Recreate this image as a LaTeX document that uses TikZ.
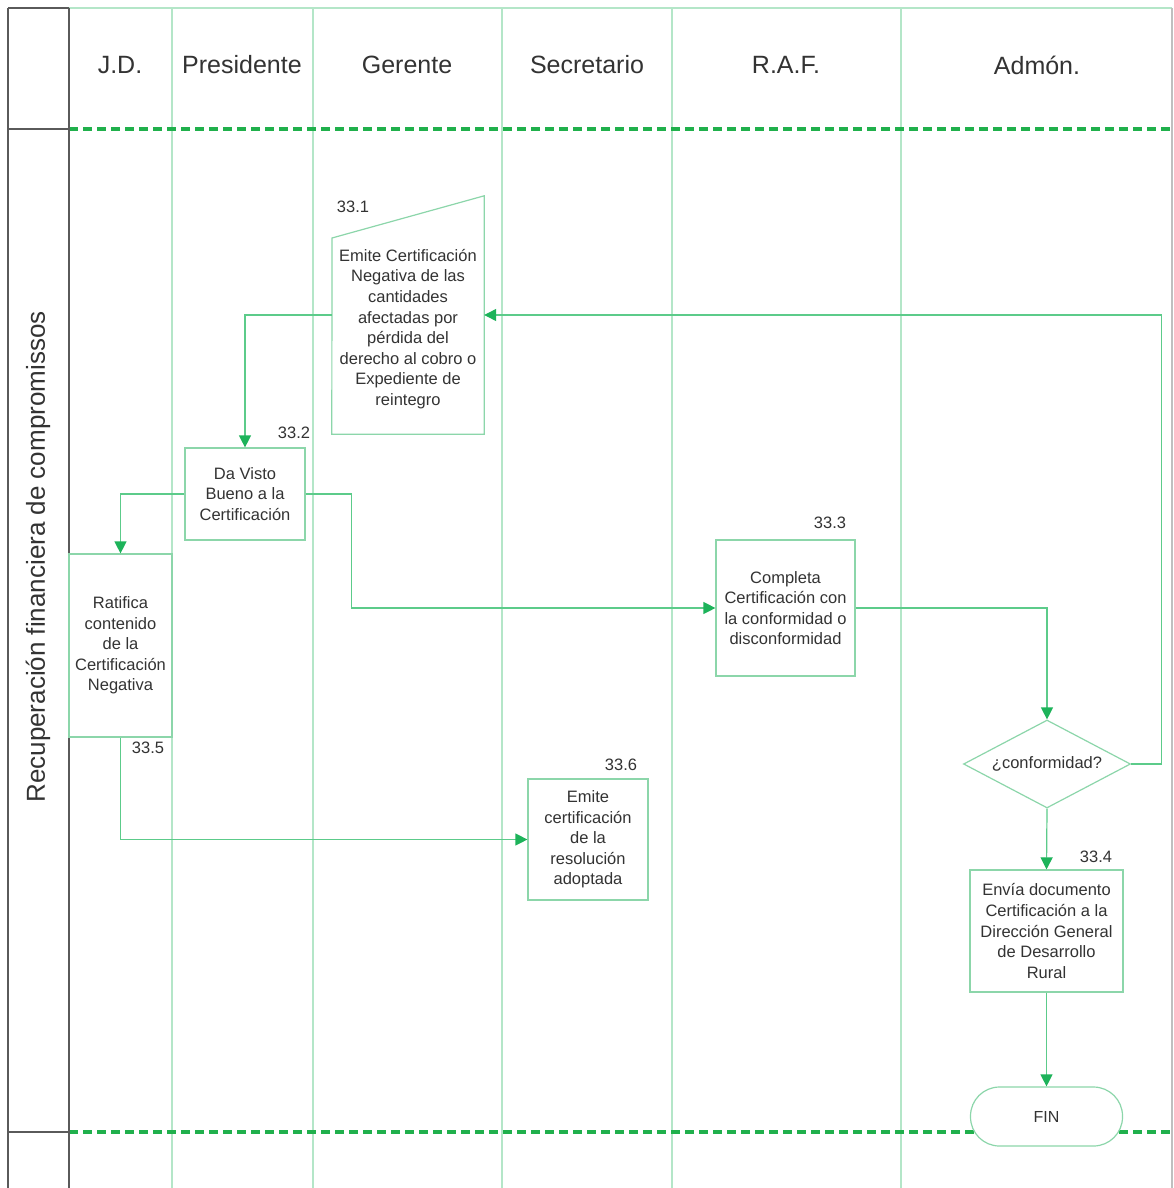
\documentclass[tikz,border=0pt]{standalone}
\usepackage{fontspec}
\setmainfont{Liberation Sans}
\usetikzlibrary{arrows.meta,shapes.geometric}
\definecolor{lanegreen}{HTML}{B4E6C8}
\definecolor{boxgreen}{HTML}{8CD6AA}
\definecolor{flowgreen}{HTML}{5CCB8A}
\definecolor{tipgreen}{HTML}{1DB35A}
\definecolor{dashgreen}{HTML}{20B04C}
\definecolor{framegray}{HTML}{5A5A5A}
\definecolor{txt}{HTML}{333333}
\tikzset{
  lane/.style={draw=lanegreen, line width=1.2pt},
  frame/.style={draw=framegray, line width=2pt},
  sep/.style={draw=dashgreen, line width=4pt, dash pattern=on 9pt off 5pt},
  hdr/.style={text=txt, font=\fontsize{25}{30}\selectfont},
  taskbox/.style={rectangle, draw=boxgreen, line width=1.2pt, fill=white,
    align=center, text=txt, inner sep=0pt, font=\fontsize{16.5}{20.6}\selectfont},
  num/.style={text=txt, inner sep=0pt, font=\fontsize{16.5}{20}\selectfont},
  flow/.style={draw=flowgreen, line width=1.2pt,
    -{Triangle[length=12pt,width=12pt,color=tipgreen]}},
}
\begin{document}
\begin{tikzpicture}[x=1pt,y=-1pt]
\useasboundingbox (0,0) rectangle (1174,1188);
\fill[white] (0,0) rectangle (1174,1188);

% swimlane grid
\draw[lane] (69,8) -- (1172,8);
\foreach \lx in {172,313,502,672,901} \draw[lane] (\lx,8) -- (\lx,1188);
\draw[draw=black!25, line width=1.2pt] (1172,8) -- (1172,1188);

% phase separators
\draw[sep] (69,129) -- (1174,129);
\draw[sep] (69,1132) -- (1174,1132);

% outer frame of the title column
\draw[frame] (8,8) -- (69,8);
\draw[frame] (8,8) -- (8,1188);
\draw[frame] (69,8) -- (69,1188);
\draw[frame] (8,129) -- (69,129);
\draw[frame] (8,1132) -- (69,1132);

% lane headers
\node[hdr] (hJD)  at (120,65)  {J.D.};
\node[hdr] (hPre) at (242,65)  {Presidente};
\node[hdr] (hGer) at (407,65)  {Gerente};
\node[hdr] (hSec) at (587,65)  {Secretario};
\node[hdr] (hRAF) at (786,65)  {R.A.F.};
\node[hdr] (hAdm) at (1037,65) {Admón.};
\node[hdr, rotate=90, font=\fontsize{26}{30}\selectfont] (proc) at (38,557) {Recuperación financiera de compromissos};

% 33.1 manual-input shape
\node[rectangle, inner sep=0pt, minimum width=152pt, minimum height=238pt] (n331) at (408,315) {};
\filldraw[draw=boxgreen, fill=white, line width=1.2pt]
  (n331.south west) -- (n331.south east) -- (n331.north east) -- (332,238) -- cycle;
\node[align=center, text=txt, inner sep=0pt, font=\fontsize{16.5}{20.6}\selectfont] (t331) at (408,329)
  {Emite Certificación\\Negativa de las\\cantidades\\afectadas por\\pérdida del\\derecho al cobro o\\Expediente de\\reintegro};
\node[num] (l331) at (353,207) {33.1};

% task boxes
\node[taskbox, minimum width=120pt, minimum height=92pt] (n332) at (245,494)
  {Da Visto\\Bueno a la\\Certificación};
\node[num] (l332) at (294,433) {33.2};

\node[taskbox, minimum width=103pt, minimum height=183pt] (n335) at (120.5,645.5)
  {Ratifica\\contenido\\de la\\Certificación\\Negativa};
\node[num] (l335) at (148,748) {33.5};

\node[taskbox, minimum width=139pt, minimum height=136pt] (n333) at (785.5,608)
  {Completa\\Certificación con\\la conformidad o\\disconformidad};
\node[num] (l333) at (830,523) {33.3};

\node[taskbox, minimum width=120pt, minimum height=121pt] (n336) at (588,839.5)
  {Emite\\certificación\\de la\\resolución\\adoptada};
\node[num] (l336) at (621,765) {33.6};

\node[diamond, draw=boxgreen, line width=1.2pt, fill=white, text=txt, inner sep=0pt,
  aspect=2, minimum width=167pt, minimum height=88pt,
  font=\fontsize{16.5}{20.6}\selectfont] (dia) at (1047,764) {¿conformidad?};

\node[taskbox, minimum width=153pt, minimum height=122pt] (n334) at (1046.5,931)
  {Envía documento\\Certificación a la\\Dirección General\\de Desarrollo\\Rural};
\node[num] (l334) at (1096,857) {33.4};

\node[rectangle, rounded corners=29pt, draw=boxgreen, line width=1.2pt, fill=white, text=txt,
  minimum width=152pt, minimum height=59pt,
  font=\fontsize{16}{20}\selectfont] (fin) at (1046.5,1116.5) {FIN};

% connectors
\draw[flow] (n331.west) -| (n332.north);
\draw[flow] (dia.east) -- ++(30,0) |- (n331.east);
\draw[flow] (n332.west) -| (n335.north);
\draw[flow] (n332.east) -- ++(46,0) |- (n333.west);
\draw[flow] (n333.east) -| (dia.north);
\draw[flow] (dia.south) -- (n334.north);
\draw[flow] (n334.south) -- (fin.north);
\draw[flow] (n335.south) |- (n336.west);
\end{tikzpicture}
\end{document}
